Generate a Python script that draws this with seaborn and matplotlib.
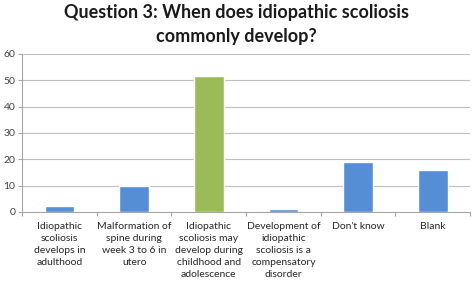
import matplotlib
matplotlib.use("Agg")
import matplotlib.pyplot as plt
import seaborn as sns
import pandas as pd
import numpy as np

categories = [
    "Idiopathic\nscoliosis\ndevelops in\nadulthood",
    "Malformation of\nspine during\nweek 3 to 6 in\nutero",
    "Idiopathic\nscoliosis may\ndevelop during\nchildhood and\nadolescence",
    "Development of\nidiopathic\nscoliosis is a\ncompensatory\ndisorder",
    "Don't know",
    "Blank",
]
values = [2.3, 10, 51.5, 0.9, 19, 16]
colors = ["#558ED5", "#558ED5", "#9BBB59", "#558ED5", "#558ED5", "#558ED5"]
yticks = [0, 10, 20, 30, 40, 50, 60]

sns.set_theme(style="white")
plt.rcParams['font.family'] = ['Lato', 'DejaVu Sans']

df = pd.DataFrame({"cat": categories, "val": values})
fig = plt.figure(figsize=(4.72, 2.84), dpi=100)
ax = fig.add_axes([0.047, 0.254, 0.949, 0.556])
sns.barplot(data=df, x="cat", y="val", hue="cat", palette=colors, legend=False,
            width=0.4, ax=ax, saturation=1)
ax.set_ylim(0, 60)
ax.set_xlim(-0.5, len(categories) - 0.5)
ax.set_yticks(yticks)
ax.set_xlabel("")
ax.set_ylabel("")
ax.grid(axis="y", color="#BFBFBF", linewidth=0.8)
ax.set_axisbelow(True)
for s in ["top", "right"]:
    ax.spines[s].set_visible(False)
for s in ["left", "bottom"]:
    ax.spines[s].set_color("#A6A6A6")
    ax.spines[s].set_linewidth(0.8)
ax.tick_params(axis="y", labelsize=7.5, colors="#404040", length=3, width=0.8, left=True, pad=2)
ax.tick_params(axis="y", color="#A6A6A6")
ax.tick_params(axis="x", labelsize=7.5, colors="#262626", length=0, pad=7)
ax.set_xticks(np.arange(-0.5, len(categories), 1.0), minor=True)
ax.tick_params(axis="x", which="minor", length=3, width=0.8, color="#A6A6A6", bottom=True)
for lbl in ax.get_xticklabels():
    lbl.set_linespacing(1.45)
    lbl.set_verticalalignment("top")
fig.suptitle("Question 3: When does idiopathic scoliosis\ncommonly develop?",
             fontsize=13, fontweight="bold", color="#1a1a1a", y=0.985, linespacing=1.5)
fig.savefig("out.png", dpi=100)
